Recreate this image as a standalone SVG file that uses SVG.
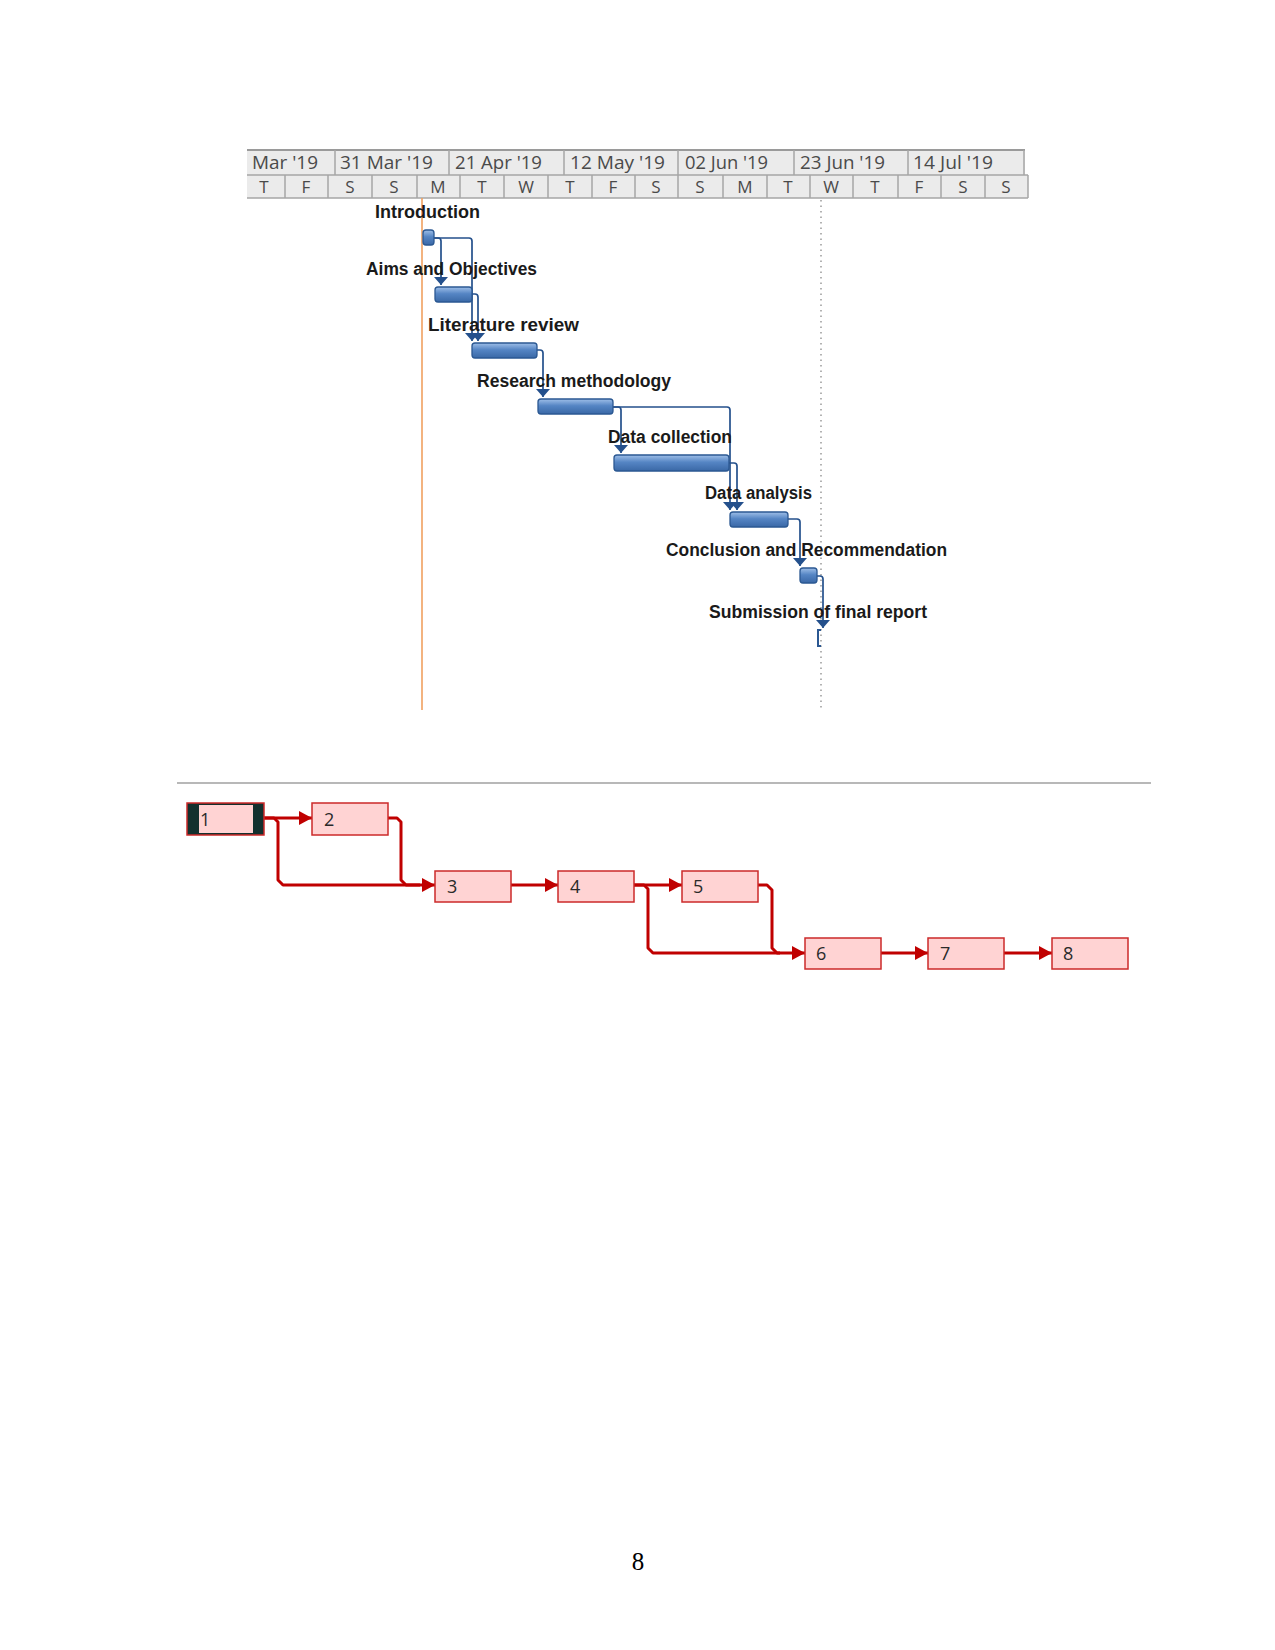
<svg xmlns="http://www.w3.org/2000/svg" width="1275" height="1650" viewBox="0 0 1275 1650">
<style>
.hdr{font-family:"Open Sans","Liberation Sans",sans-serif;font-size:18px;fill:#4a4a4a}
.day{font-family:"Open Sans","Liberation Sans",sans-serif;font-size:17px;fill:#4a4a4a;text-anchor:middle}
.cell{fill:none;stroke:#a6a6a6;stroke-width:1.5}
.lbl{font-family:"Liberation Sans","Noto Sans",sans-serif;font-weight:bold;font-size:18px;fill:#1a1a1a}
.bar{fill:url(#bg);stroke:#2b5892;stroke-width:1.3}
.gl{fill:none;stroke:#24508c;stroke-width:1.7;marker-end:url(#ga)}
.nbox{fill:#ffd3d3;stroke:#cc2a2a;stroke-width:1.5}
.ntx{font-family:"Open Sans","Liberation Sans",sans-serif;font-size:18px;fill:#2a2a2a}
.nl{fill:none;stroke:#c00000;stroke-width:3;stroke-linejoin:round}
.na{marker-end:url(#na)}
</style>
<defs>
<linearGradient id="bg" x1="0" y1="0" x2="0" y2="1">
<stop offset="0" stop-color="#9fbfe8"/>
<stop offset="0.45" stop-color="#5585c4"/>
<stop offset="1" stop-color="#3a68a6"/>
</linearGradient>
<marker id="ga" markerUnits="userSpaceOnUse" markerWidth="9" markerHeight="14" refX="8" refY="7" orient="auto">
<path d="M0,0 L8,7 L0,14 z" fill="#24508c"/>
</marker>
<marker id="na" markerUnits="userSpaceOnUse" markerWidth="14" markerHeight="14" refX="13" refY="7" orient="auto">
<path d="M0,0 L13,7 L0,14 z" fill="#c00000"/>
</marker>
</defs>
<rect width="1275" height="1650" fill="#ffffff"/>

<g id="timescale">
<rect x="247" y="150" width="778" height="25" fill="#ebebeb"/>
<rect x="247" y="175" width="781" height="23" fill="#ebebeb"/>
<line x1="247" y1="150" x2="1025" y2="150" stroke="#9a9a9a" stroke-width="2"/>
<line x1="247" y1="175" x2="1028" y2="175" class="cell"/>
<line x1="247" y1="198" x2="1028" y2="198" class="cell"/>
<path class="cell" d="M335,150 V175 M449,150 V175 M564,150 V175 M678,150 V175 M794,150 V175 M908,150 V175 M1024,150 V175"/>
<path class="cell" d="M285,175 V198 M328,175 V198 M372,175 V198 M417,175 V198 M460,175 V198 M504,175 V198 M548,175 V198 M592,175 V198 M635,175 V198 M678,175 V198 M723,175 V198 M767,175 V198 M810,175 V198 M853,175 V198 M898,175 V198 M941,175 V198 M985,175 V198 M1028,175 V198"/>
<text class="hdr" x="252" y="169" textLength="66" lengthAdjust="spacingAndGlyphs">Mar '19</text>
<text class="hdr" x="340" y="169" textLength="93" lengthAdjust="spacingAndGlyphs">31 Mar '19</text>
<text class="hdr" x="455" y="169" textLength="87" lengthAdjust="spacingAndGlyphs">21 Apr '19</text>
<text class="hdr" x="570" y="169" textLength="95" lengthAdjust="spacingAndGlyphs">12 May '19</text>
<text class="hdr" x="685" y="169" textLength="83" lengthAdjust="spacingAndGlyphs">02 Jun '19</text>
<text class="hdr" x="800" y="169" textLength="85" lengthAdjust="spacingAndGlyphs">23 Jun '19</text>
<text class="hdr" x="913" y="169" textLength="80" lengthAdjust="spacingAndGlyphs">14 Jul '19</text>
<text class="day" x="264" y="193">T</text>
<text class="day" x="306" y="193">F</text>
<text class="day" x="350" y="193">S</text>
<text class="day" x="394" y="193">S</text>
<text class="day" x="438" y="193">M</text>
<text class="day" x="482" y="193">T</text>
<text class="day" x="526" y="193">W</text>
<text class="day" x="570" y="193">T</text>
<text class="day" x="613" y="193">F</text>
<text class="day" x="656" y="193">S</text>
<text class="day" x="700" y="193">S</text>
<text class="day" x="745" y="193">M</text>
<text class="day" x="788" y="193">T</text>
<text class="day" x="831" y="193">W</text>
<text class="day" x="875" y="193">T</text>
<text class="day" x="919" y="193">F</text>
<text class="day" x="963" y="193">S</text>
<text class="day" x="1006" y="193">S</text>
</g>

<g id="gridlines">
<line x1="422" y1="198" x2="422" y2="710" stroke="#f0a060" stroke-width="1.6"/>
<line x1="821" y1="200" x2="821" y2="710" stroke="#8a8a8a" stroke-width="1.3" stroke-dasharray="1.5,4"/>
</g>

<g id="gantt-connectors">
<path class="gl" d="M434,238 H438 q3,0 3,3 V285"/>
<path class="gl" d="M434,238 H469 q3,0 3,3 V341"/>
<path class="gl" d="M472,294 H475 q3,0 3,3 V341"/>
<path class="gl" d="M537,350 H540 q3,0 3,3 V397"/>
<path class="gl" d="M613,407 H618 q3,0 3,3 V453"/>
<path class="gl" d="M613,407 H727 q3,0 3,3 V510"/>
<path class="gl" d="M729,463 H734 q3,0 3,3 V510"/>
<path class="gl" d="M788,519 H797 q3,0 3,3 V566"/>
<path class="gl" d="M817,576 H820 q3,0 3,3 V628"/>
</g>

<g id="task-introduction">
<rect class="bar" x="423" y="230" width="11" height="15" rx="3"/>
<text class="lbl" x="375" y="218" textLength="105" lengthAdjust="spacingAndGlyphs">Introduction</text>
</g>
<g id="task-aims">
<rect class="bar" x="435" y="287" width="37" height="15" rx="3"/>
<text class="lbl" x="366" y="275" textLength="171" lengthAdjust="spacingAndGlyphs">Aims and Objectives</text>
</g>
<g id="task-literature">
<rect class="bar" x="472" y="343" width="65" height="15" rx="3"/>
<text class="lbl" x="428" y="331" textLength="151" lengthAdjust="spacingAndGlyphs">Literature review</text>
</g>
<g id="task-research">
<rect class="bar" x="538" y="399" width="75" height="15" rx="3"/>
<text class="lbl" x="477" y="387" textLength="194" lengthAdjust="spacingAndGlyphs">Research methodology</text>
</g>
<g id="task-datacollection">
<rect class="bar" x="614" y="455" width="115" height="16" rx="3"/>
<text class="lbl" x="608" y="443" textLength="124" lengthAdjust="spacingAndGlyphs">Data collection</text>
</g>
<g id="task-dataanalysis">
<rect class="bar" x="730" y="512" width="58" height="15" rx="3"/>
<text class="lbl" x="705" y="499" textLength="107" lengthAdjust="spacingAndGlyphs">Data analysis</text>
</g>
<g id="task-conclusion">
<rect class="bar" x="800" y="568" width="17" height="15" rx="3"/>
<text class="lbl" x="666" y="556" textLength="281" lengthAdjust="spacingAndGlyphs">Conclusion and Recommendation</text>
</g>
<g id="task-submission">
<path d="M821,630 H818 V646 H821" fill="none" stroke="#2b5892" stroke-width="2"/>
<text class="lbl" x="709" y="618" textLength="218" lengthAdjust="spacingAndGlyphs">Submission of final report</text>
</g>

<line x1="177" y1="783" x2="1151" y2="783" stroke="#a0a0a0" stroke-width="1.5"/>

<g id="network-connectors">
<path class="nl na" d="M264,818 H312"/>
<path class="nl" d="M264,818 H274 L278,822 V880 L283,885 H420"/>
<path class="nl na" d="M388,818 H397 L401,822 V880 L406,885 H435"/>
<path class="nl na" d="M511,885 H558"/>
<path class="nl na" d="M634,885 H682"/>
<path class="nl" d="M634,885 H644 L648,889 V948 L653,953 H780"/>
<path class="nl na" d="M758,885 H767 L772,890 V948 L777,953 H805"/>
<path class="nl na" d="M881,953 H928"/>
<path class="nl na" d="M1004,953 H1052"/>
</g>

<g id="node-1">
<rect x="187" y="803" width="77" height="32" fill="#13302e" stroke="#cc2a2a" stroke-width="1.5"/>
<rect x="199" y="805" width="54" height="28" fill="#ffd3d3"/>
<text class="ntx" x="200" y="826">1</text>
</g>
<g id="node-2">
<rect class="nbox" x="312" y="803" width="76" height="32"/>
<text class="ntx" x="324" y="826">2</text>
</g>
<g id="node-3">
<rect class="nbox" x="435" y="871" width="76" height="31"/>
<text class="ntx" x="447" y="893">3</text>
</g>
<g id="node-4">
<rect class="nbox" x="558" y="871" width="76" height="31"/>
<text class="ntx" x="570" y="893">4</text>
</g>
<g id="node-5">
<rect class="nbox" x="682" y="871" width="76" height="31"/>
<text class="ntx" x="693" y="893">5</text>
</g>
<g id="node-6">
<rect class="nbox" x="805" y="938" width="76" height="31"/>
<text class="ntx" x="816" y="960">6</text>
</g>
<g id="node-7">
<rect class="nbox" x="928" y="938" width="76" height="31"/>
<text class="ntx" x="940" y="960">7</text>
</g>
<g id="node-8">
<rect class="nbox" x="1052" y="938" width="76" height="31"/>
<text class="ntx" x="1063" y="960">8</text>
</g>

<text x="638" y="1570" font-family="Liberation Serif,serif" font-size="25" fill="#000" text-anchor="middle">8</text>
</svg>
